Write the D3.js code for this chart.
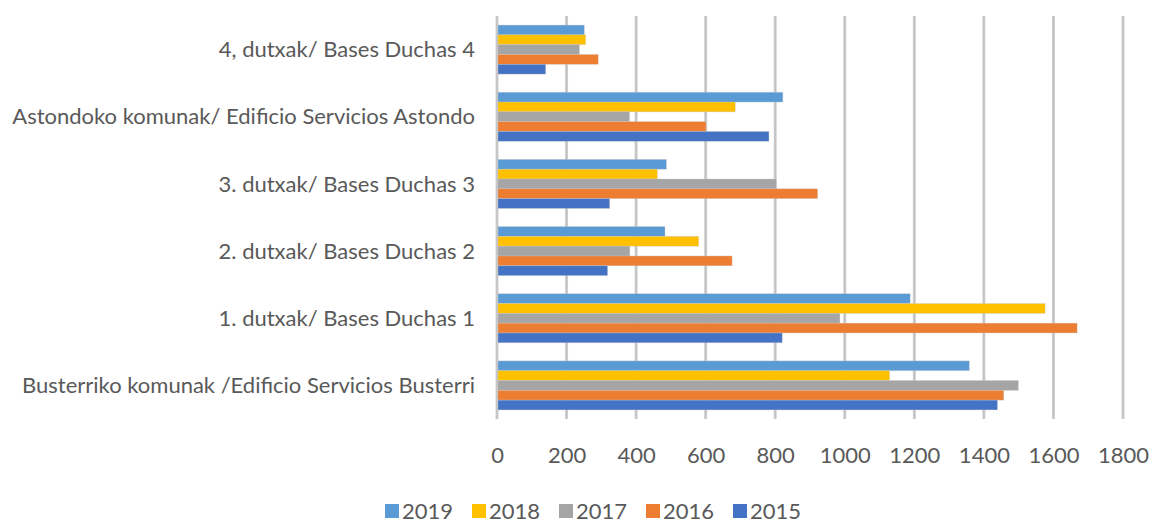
<!DOCTYPE html>
<html>
<head>
<meta charset="utf-8">
<script src="https://cdn.jsdelivr.net/npm/d3@7"></script>
<style>
  body { margin: 0; background: #ffffff; }
  text { font-family: Lato, "Open Sans", sans-serif; }
</style>
</head>
<body>
<div id="chart"></div>
<script>
// categories, top to bottom as drawn
var categories = [
  "4, dutxak/ Bases Duchas 4",
  "Astondoko komunak/ Edificio Servicios Astondo",
  "3. dutxak/ Bases Duchas 3",
  "2. dutxak/ Bases Duchas 2",
  "1. dutxak/ Bases Duchas 1",
  "Busterriko komunak /Edificio Servicios Busterri"
];

// series, top bar in each group first
var years = ["2019", "2018", "2017", "2016", "2015"];
var colors = ["#5b9bd5", "#ffc000", "#a5a5a5", "#ed7d31", "#4472c4"];

var values2019 = [251, 822, 487, 483, 1188, 1358];
var values2018 = [255, 685, 461, 580, 1576, 1129];
var values2017 = [237, 381, 803, 382, 986, 1499];
var values2016 = [291, 601, 922, 676, 1668, 1457];
var values2015 = [140, 782, 324, 318, 820, 1439];

var seriesValues = [values2019, values2018, values2017, values2016, values2015];

var xTicks = [0, 200, 400, 600, 800, 1000, 1200, 1400, 1600, 1800];

// *****************************************************************************
// dimensions
// *****************************************************************************
var W = 1150, H = 524;
var margin = { top: 16, right: 27, bottom: 105, left: 497 };
var width = W - margin.left - margin.right,
  height = H - margin.top - margin.bottom;

var svg = d3
  .select("#chart")
  .append("svg")
  .attr("width", W)
  .attr("height", H);

var g = svg
  .append("g")
  .attr("transform", "translate(" + margin.left + "," + margin.top + ")");

// *****************************************************************************
// scales
// *****************************************************************************
var x = d3.scaleLinear().domain([0, 1800]).range([0, width]);

var y = d3.scaleBand().domain(categories).range([0, height]).paddingInner(0.27).paddingOuter(0.135);

var ySub = d3.scaleBand().domain(years).range([0, y.bandwidth()]);

// *****************************************************************************
// gridlines
// *****************************************************************************
g.append("g")
  .selectAll("line")
  .data(xTicks)
  .enter()
  .append("line")
  .attr("x1", function (d) { return x(d); })
  .attr("x2", function (d) { return x(d); })
  .attr("y1", 0)
  .attr("y2", height)
  .attr("stroke", "#d0d0d0")
  .attr("stroke-width", 3);

g.append("g")
  .selectAll("line")
  .data(xTicks)
  .enter()
  .append("line")
  .attr("x1", function (d) { return x(d); })
  .attr("x2", function (d) { return x(d); })
  .attr("y1", 0)
  .attr("y2", height)
  .attr("stroke", "#bdbdbd")
  .attr("stroke-width", 1);

// *****************************************************************************
// bars
// *****************************************************************************
years.forEach(function (yr, i) {
  g.append("g")
    .selectAll("rect")
    .data(seriesValues[i])
    .enter()
    .append("rect")
    .attr("x", x(0) + 1)
    .attr("y", function (d, j) { return y(categories[j]) + ySub(yr); })
    .attr("width", function (d) { return x(d) - x(0) - 1; })
    .attr("height", ySub.bandwidth())
    .attr("fill", colors[i])
    .attr("stroke", "rgba(200,200,200,0.6)")
    .attr("stroke-width", 0.6);
});

// *****************************************************************************
// axes
// *****************************************************************************
var xAxis = g
  .append("g")
  .attr("transform", "translate(0," + height + ")")
  .call(
    d3.axisBottom(x).tickValues(xTicks).tickSize(0).tickPadding(0).tickFormat(d3.format("d"))
  );
xAxis.select(".domain").remove();
xAxis
  .selectAll("text")
  .attr("dy", null)
  .attr("y", 38)
  .style("font-size", "22px")
  .style("font-family", "Lato, sans-serif")
  .attr("fill", "#595959")
  .attr("dominant-baseline", "middle");

var yAxis = g.append("g").call(d3.axisLeft(y).tickSize(0).tickPadding(22));
yAxis.select(".domain").remove();
yAxis
  .selectAll("text")
  .style("font-size", "22px")
  .style("font-family", "Lato, sans-serif")
  .attr("fill", "#595959")
  .attr("dy", "0.35em");

// *****************************************************************************
// legend
// *****************************************************************************
var legend = svg.append("g").attr("transform", "translate(385,511)");
var lx = 0;
years.forEach(function (yr, i) {
  var item = legend.append("g").attr("transform", "translate(" + lx + ",0)");
  item
    .append("rect")
    .attr("x", 0)
    .attr("y", -7)
    .attr("width", 14)
    .attr("height", 14)
    .attr("fill", colors[i]);
  item
    .append("text")
    .attr("x", 17)
    .attr("y", 0)
    .attr("dy", "0.35em")
    .style("font-size", "22px")
    .attr("fill", "#595959")
    .text(yr);
  lx += 87;
});
</script>
</body>
</html>
